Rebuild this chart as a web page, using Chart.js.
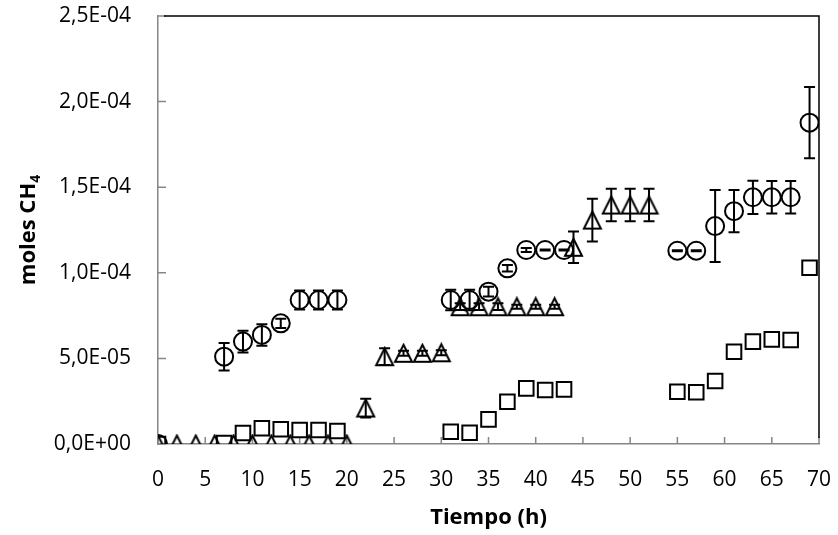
<!DOCTYPE html>
<html>
<head>
<meta charset="utf-8">
<title>moles CH4 vs Tiempo</title>
<script src="https://cdn.jsdelivr.net/npm/chart.js@4.4.0/dist/chart.umd.min.js"></script>
<style>
  html, body { margin: 0; padding: 0; background: #fff; }
</style>
</head>
<body>
<canvas id="methaneChart" width="838" height="535"></canvas>
<script>
// axis limits / ticks
const xMin = 0, xMax = 70, xStep = 5;
const yMin = 0, yMax = 2.5e-4, yStep = 5e-5;
const xTitle = 'Tiempo (h)';

// circles
const circleTime = [0, 7, 9, 11, 13, 15, 17, 19, 31, 33, 35, 37, 39, 41, 43, 55, 57, 59, 61, 63, 65, 67, 69];
const circleMoles = [0, 5.1e-5, 5.98e-5, 6.37e-5, 7.05e-5, 8.41e-5, 8.41e-5, 8.41e-5, 8.41e-5, 8.41e-5, 8.9e-5,
    1.026e-4, 1.133e-4, 1.133e-4, 1.133e-4, 1.129e-4, 1.129e-4, 1.273e-4, 1.36e-4, 1.441e-4, 1.441e-4, 1.441e-4, 1.877e-4];
const circleErr = [0, 0.8e-5, 0.64e-5, 0.63e-5, 0.27e-5, 0.55e-5, 0.55e-5, 0.55e-5, 0.6e-5, 0.6e-5, 0.29e-5,
    0.19e-5, 0.12e-5, 0.03e-5, 0.03e-5, 0.03e-5, 0.03e-5, 2.1e-5, 1.23e-5, 0.97e-5, 0.95e-5, 0.95e-5, 2.08e-5];

// triangles
const triangleTime = [0, 2, 4, 6, 8, 10, 12, 14, 16, 18, 20, 22, 24, 26, 28, 30, 32, 34, 36, 38, 40, 42, 44, 46, 48, 50, 52];
const triangleMoles = [0, 0, 0, 0, 0, 0, 0, 0, 0, 0, 0, 2.1e-5, 5.1e-5, 5.3e-5, 5.3e-5, 5.33e-5,
    8.02e-5, 8.02e-5, 8.02e-5, 8.02e-5, 8.02e-5, 8.02e-5, 1.149e-4, 1.308e-4, 1.396e-4, 1.396e-4, 1.396e-4];
const triangleErr = [0, 0, 0, 0, 0, 0, 0, 0, 0, 0, 0, 0.55e-5, 0.49e-5, 0.15e-5, 0.15e-5, 0.15e-5,
    0.2e-5, 0.2e-5, 0.2e-5, 0.12e-5, 0.12e-5, 0.12e-5, 0.92e-5, 1.25e-5, 0.95e-5, 0.95e-5, 0.95e-5];

// squares
const squareTime = [0, 7, 9, 11, 13, 15, 17, 19, 31, 33, 35, 37, 39, 41, 43, 55, 57, 59, 61, 63, 65, 67, 69];
const squareMoles = [0, 0.05e-5, 0.64e-5, 0.92e-5, 0.86e-5, 0.82e-5, 0.82e-5, 0.76e-5, 0.72e-5, 0.66e-5, 1.44e-5,
    2.47e-5, 3.25e-5, 3.15e-5, 3.19e-5, 3.05e-5, 3.02e-5, 3.68e-5, 5.39e-5, 5.98e-5, 6.11e-5, 6.07e-5, 1.03e-4];

const axisGray = '#868686';
const tickFont = { family: 'Open Sans', size: 21 };

function toPoints(xs, ys) {
    return xs.map((x, i) => ({ x: x, y: ys[i] }));
}

// Excel-like "2,5E-04"
function formatSci(value) {
    const parts = Number(value).toExponential(1).split('e');
    let exp = parseInt(parts[1], 10);
    const sign = exp < 0 ? '-' : '+';
    exp = Math.abs(exp);
    return parts[0].replace('.', ',') + 'E' + sign + (exp < 10 ? '0' + exp : exp);
}

// triangle drawn into a canvas so it is centred on its bounding box
function makeTriangle(w, h, lw) {
    const m = Math.ceil(lw / 2) + 1;
    const c = document.createElement('canvas');
    c.width = w + m * 2;
    c.height = h + m * 2;
    const g = c.getContext('2d');
    g.strokeStyle = '#000';
    g.lineWidth = lw;
    g.lineJoin = 'miter';
    g.beginPath();
    g.moveTo(c.width / 2, m);
    g.lineTo(c.width - m, c.height - m);
    g.lineTo(m, c.height - m);
    g.closePath();
    g.stroke();
    return c;
}

const errorBarPlugin = {
    id: 'errorBars',
    afterDatasetsDraw(chart) {
        const ctx = chart.ctx;
        const xs = chart.scales.x;
        const ys = chart.scales.y;
        ctx.save();
        ctx.strokeStyle = '#000';
        ctx.lineWidth = 2;
        chart.data.datasets.forEach(ds => {
            if (!ds.errors) return;
            ds.data.forEach((p, i) => {
                const e = ds.errors[i];
                if (!e) return;
                const x = xs.getPixelForValue(p.x);
                const top = ys.getPixelForValue(p.y + e);
                const bot = ys.getPixelForValue(p.y - e);
                ctx.beginPath();
                ctx.moveTo(x, top);
                ctx.lineTo(x, bot);
                ctx.moveTo(x - 5.5, top);
                ctx.lineTo(x + 5.5, top);
                ctx.moveTo(x - 5.5, bot);
                ctx.lineTo(x + 5.5, bot);
                ctx.stroke();
            });
        });
        ctx.restore();
    }
};

const framePlugin = {
    id: 'frame',
    beforeDatasetsDraw(chart) {
        const ctx = chart.ctx;
        const area = chart.chartArea;
        const xs = chart.scales.x;
        const ys = chart.scales.y;
        ctx.save();
        ctx.strokeStyle = axisGray;
        ctx.lineWidth = 1.5;
        ctx.beginPath();
        // tick marks point into the plot
        ys.ticks.forEach(t => {
            const y = ys.getPixelForValue(t.value);
            ctx.moveTo(area.left, y);
            ctx.lineTo(area.left + 8, y);
        });
        xs.ticks.forEach(t => {
            const x = xs.getPixelForValue(t.value);
            ctx.moveTo(x, area.bottom);
            ctx.lineTo(x, area.bottom - 7);
        });
        ctx.stroke();
        ctx.restore();
    },
    afterDraw(chart) {
        const ctx = chart.ctx;
        const area = chart.chartArea;
        ctx.save();
        ctx.strokeStyle = '#000';
        ctx.lineWidth = 1.5;
        ctx.beginPath();
        ctx.moveTo(area.left + 6, area.top);
        ctx.lineTo(area.right, area.top);
        ctx.lineTo(area.right, area.bottom - 6);
        ctx.stroke();

        ctx.fillStyle = '#000';
        ctx.textBaseline = 'middle';

        // x axis title
        ctx.font = 'bold 22px "Open Sans"';
        ctx.textAlign = 'center';
        ctx.fillText(xTitle, (area.left + area.right) / 2, 518);

        // y axis title with subscript
        ctx.translate(29, (area.top + area.bottom) / 2);
        ctx.rotate(-Math.PI / 2);
        const main = 'moles CH';
        const wMain = ctx.measureText(main).width;
        ctx.font = 'bold 14px "Open Sans"';
        const wSub = ctx.measureText('4').width;
        const start = -(wMain + wSub) / 2;
        ctx.font = 'bold 22px "Open Sans"';
        ctx.textAlign = 'left';
        ctx.fillText(main, start, 0);
        ctx.font = 'bold 14px "Open Sans"';
        ctx.fillText('4', start + wMain, 7);
        ctx.restore();
    }
};

document.addEventListener('DOMContentLoaded', function() {
    const ctx = document.getElementById('methaneChart').getContext('2d');
    const triangleImg = makeTriangle(17, 17, 2);

    new Chart(ctx, {
        type: 'scatter',
        data: {
            datasets: [{
                label: 'Circulos',
                data: toPoints(circleTime, circleMoles),
                errors: circleErr,
                pointStyle: 'circle',
                pointRadius: 9,
                borderColor: '#000',
                backgroundColor: 'rgba(0,0,0,0)',
                borderWidth: 2,
                showLine: false
            }, {
                label: 'Triangulos',
                data: toPoints(triangleTime, triangleMoles),
                errors: triangleErr,
                pointStyle: triangleImg,
                pointRadius: 9,
                borderColor: '#000',
                backgroundColor: 'rgba(0,0,0,0)',
                showLine: false
            }, {
                label: 'Cuadrados',
                data: toPoints(squareTime, squareMoles),
                pointStyle: 'rect',
                pointRadius: 10.3,
                borderColor: '#000',
                backgroundColor: 'rgba(0,0,0,0)',
                borderWidth: 2,
                showLine: false
            }]
        },
        options: {
            responsive: false,
            animation: false,
            events: [],
            layout: {
                autoPadding: false,
                padding: { top: 16, right: 19, left: 0, bottom: 0 }
            },
            plugins: {
                legend: { display: false },
                tooltip: { enabled: false }
            },
            scales: {
                x: {
                    type: 'linear',
                    min: xMin,
                    max: xMax,
                    afterFit: scale => {
                        scale.height = 91;
                        scale.paddingLeft = 0;
                        scale.paddingRight = 0;
                    },
                    ticks: {
                        stepSize: xStep,
                        color: '#000',
                        font: tickFont,
                        padding: 23,
                        maxRotation: 0
                    },
                    grid: { display: true, drawOnChartArea: false, drawTicks: false },
                    border: { color: axisGray, width: 1.5 }
                },
                y: {
                    type: 'linear',
                    min: yMin,
                    max: yMax,
                    afterFit: scale => {
                        scale.width = 158;
                        scale.paddingTop = 0;
                        scale.paddingBottom = 0;
                    },
                    ticks: {
                        stepSize: yStep,
                        color: '#000',
                        font: tickFont,
                        padding: 27,
                        callback: formatSci
                    },
                    grid: { display: true, drawOnChartArea: false, drawTicks: false },
                    border: { color: axisGray, width: 1.5 }
                }
            }
        },
        plugins: [framePlugin, errorBarPlugin]
    });
});
</script>
</body>
</html>
